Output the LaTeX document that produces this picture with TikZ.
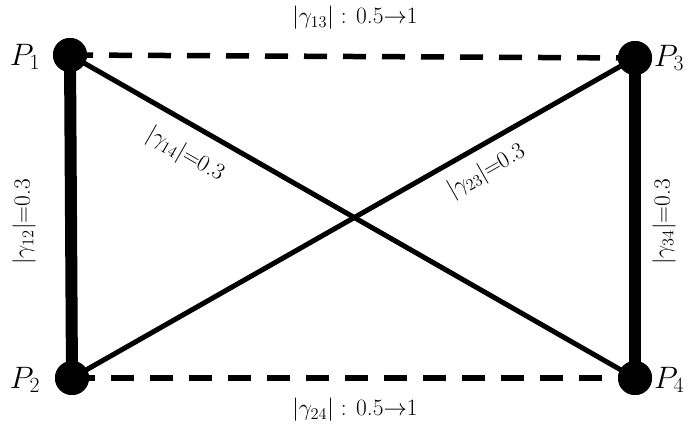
\documentclass[tikz,border=0pt]{standalone}
\usepackage{fix-cm}
\newcommand{\mylbl}[1]{\scalebox{1.17}{#1}}
\begin{document}
\begin{tikzpicture}[x=1pt,y=1pt,
  pt/.style={circle,fill=black,inner sep=0pt,minimum size=34pt},
  plabel/.style={font=\fontsize{31}{35}\selectfont},
  elabel/.style={font=\fontsize{20}{24}\selectfont},
  thickedge/.style={line width=12pt},
  diagedge/.style={line width=5pt},
  dashedge/.style={line width=5.5pt,dash pattern=on 23pt off 16pt}]
\useasboundingbox (0,0) rectangle (687,434);
\node[pt] (P1) at (70,379) {};
\node[pt] (P2) at (72,56) {};
\node[pt] (P3) at (635,376) {};
\node[pt] (P4) at (635,56) {};
\node[plabel] (L1) at (25,377) {$P_1$};
\node[plabel] (L2) at (25,54) {$P_2$};
\node[plabel] (L3) at (669,376) {$P_3$};
\node[plabel] (L4) at (669,54) {$P_4$};
\draw[thickedge] (P1.center) -- (P2.center);
\draw[thickedge] (P3.center) -- (P4.center);
\node[elabel,rotate=90] (g12) at (24,212) {\mylbl{$|\gamma_{12}|$=0.3}};
\node[elabel,rotate=90] (g34) at (664,212) {\mylbl{$|\gamma_{34}|$=0.3}};
\draw[diagedge] (P1.center) -- node[elabel,pos=0.23,sloped,below=12pt] (g14) {\mylbl{$|\gamma_{14}|$=0.3}} (P4.center);
\draw[diagedge] (P2.center) -- node[elabel,pos=0.714,sloped,below=8pt] (g23) {\mylbl{$|\gamma_{23}|$=0.3}} (P3.center);
\draw[dashedge] (P1.center) -- (P3.center);
\draw[dashedge] (P2.center) -- (P4.center);
\node[elabel] (g13) at (355,416) {\mylbl{$|\gamma_{13}|$ : 0.5$\rightarrow$1}};
\node[elabel] (g24) at (355,24) {\mylbl{$|\gamma_{24}|$ : 0.5$\rightarrow$1}};
\node[pt] at (P1) {};
\node[pt] at (P2) {};
\node[pt] at (P3) {};
\node[pt] at (P4) {};
\end{tikzpicture}
\end{document}
